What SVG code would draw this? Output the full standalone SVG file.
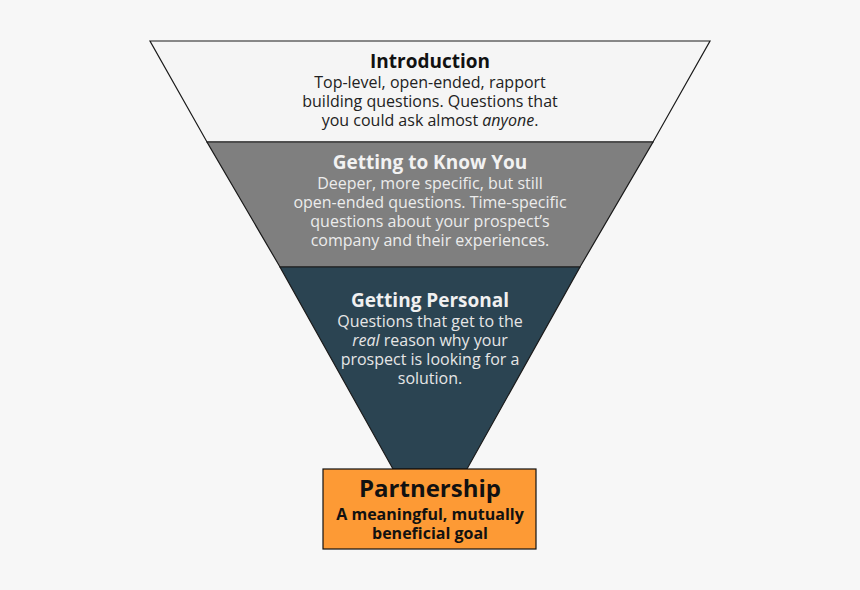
<svg xmlns="http://www.w3.org/2000/svg" width="860" height="590" viewBox="0 0 860 590">
<style>
.t{font-family:"Open Sans","Noto Sans","DejaVu Sans",sans-serif;text-anchor:middle}
.h{font-weight:bold;font-size:19px}
.b{font-size:16px}
.layer{stroke:#1a1a1a;stroke-width:1.2}
</style>
<rect width="860" height="590" fill="#f7f7f7"/>
<g id="introduction">
<polygon class="layer" points="150,41 710,41 653,142 207,142" fill="#f5f5f5"/>
<text class="t h" x="430" y="68" fill="#111">Introduction</text>
<text class="t b" x="430" y="88" fill="#222">Top-level, open-ended, rapport</text>
<text class="t b" x="430" y="107" fill="#222">building questions. Questions that</text>
<text class="t b" x="430" y="126" fill="#222">you could ask almost <tspan font-style="italic">anyone</tspan>.</text>
</g>
<g id="getting-to-know-you">
<polygon class="layer" points="207,142 653,142 580,267 280,267" fill="#7f7f7f"/>
<text class="t h" x="430" y="169" fill="#f2f2f2">Getting to Know You</text>
<text class="t b" x="430" y="189" fill="#ececec">Deeper, more specific, but still</text>
<text class="t b" x="430" y="208" fill="#ececec">open-ended questions. Time-specific</text>
<text class="t b" x="430" y="227" fill="#ececec">questions about your prospect’s</text>
<text class="t b" x="430" y="246" fill="#ececec">company and their experiences.</text>
</g>
<g id="getting-personal">
<polygon class="layer" points="280,267 580,267 467,469 393,469" fill="#2b4452"/>
<text class="t h" x="430" y="307" fill="#f0f0f0">Getting Personal</text>
<text class="t b" x="430" y="327" fill="#e6e6e6">Questions that get to the</text>
<text class="t b" x="430" y="346" fill="#e6e6e6"><tspan font-style="italic">real</tspan> reason why your</text>
<text class="t b" x="430" y="365" fill="#e6e6e6">prospect is looking for a</text>
<text class="t b" x="430" y="384" fill="#e6e6e6">solution.</text>
</g>
<g id="partnership">
<rect x="323" y="469" width="213" height="80" fill="#fd9a35" stroke="#111" stroke-width="1.2"/>
<text class="t" x="430" y="497" font-weight="bold" font-size="24px" fill="#111">Partnership</text>
<text class="t" x="430" y="520" font-weight="bold" font-size="16px" fill="#111">A meaningful, mutually</text>
<text class="t" x="430" y="539" font-weight="bold" font-size="16px" fill="#111">beneficial goal</text>
</g>
<g id="connectors"></g>
</svg>
